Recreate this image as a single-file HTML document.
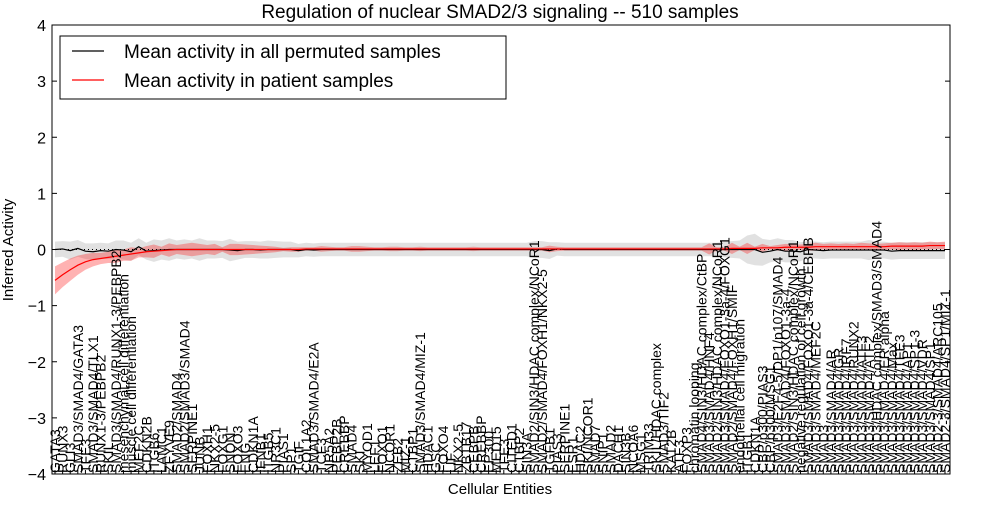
<!DOCTYPE html>
<html><head><meta charset="utf-8"><style>
body{margin:0;background:#fff;}
svg text{font-family:"Liberation Sans",sans-serif;}
</style></head><body>
<svg id="chart" width="1000" height="500" xmlns="http://www.w3.org/2000/svg">
<rect width="1000" height="500" fill="#fff"/>
<text x="500" y="18" font-size="19" text-anchor="middle">Regulation of nuclear SMAD2/3 signaling -- 510 samples</text>
<text transform="translate(13,250) rotate(-90)" font-size="15" text-anchor="middle">Inferred Activity</text>
<text x="500" y="494" font-size="15" text-anchor="middle">Cellular Entities</text>
<g id="bands"></g><g id="lines"></g><g id="xlabels"></g><g id="yticks"></g>
<rect x="52" y="25" width="898" height="449" fill="none" stroke="#000" stroke-width="1"/>
<g>
<rect x="60" y="36" width="446" height="63" fill="#fff" stroke="#000"/>
<line x1="72" y1="51" x2="104" y2="51" stroke="#000" stroke-width="1.2"/>
<text x="124" y="58" font-size="19">Mean activity in all permuted samples</text>
<line x1="72" y1="80" x2="104" y2="80" stroke="#f00" stroke-width="1.2"/>
<text x="124" y="87" font-size="19">Mean activity in patient samples</text>
</g>
</svg>
<script>
const yTicks=[-4,-3,-2,-1,0,1,2,3,4];
const labels=["GATA3","RUNX3","GLI3","SMAD3/SMAD4/GATA3","TFE3","SMAD3/SMAD4/TLX1","RUNX1-3/PEBPB2","SKIL","SMAD3/SMAD4/RUNX1-3/PEBPB2","mesenchymal cell differentiation","muscle cell differentiation","MEF2C","CDKN2B","ITGB6","LAMC1","ZFYVE9","SMAD2/SMAD4","SMAD2/SMAD3/SMAD4","SERPINE1","JUNB","FOXH1","NKX2-5","FOXG1","SNON","FOXO3","ENG","CDKN1A","IFNB1","ITGB5","NR3C1","PIAS1","SP1","TGIF","COL1A2","SMAD3/SMAD4/E2A","TCF3","NR5A2","PEBP2B","CREBBP","SMAD4","SKI","MYOD1","LEF1","FOXO1","NCOR1","ZEB2","MIZ-1","CTBP1","SMAD3/SMAD4/MIZ-1","HDAC1","GSC","FOXO4","LIF","NKX2-5","ZBTB17","CEBPB","CREBBP","EP300","MED15","TFE3","CITED1","CTBP2","SIN3A","SMAD2/SIN3/HDAC complex/NCoR1","SMAD2/SMAD4/FOXH1/NKX2-5","TGFB1","PIAS3","SERPINE1","ESR1","HDAC2","SKI/NCOR1","SMAD7","SNIP1","SMAD2","DACH1","SIN3B","NCOA6","MSG1","TRIM33","SKIL/HDAC complex","SMAD3/TIF2","KAT2B","ATF3","FOXP3","chromatin looping","SMAD4/SIN3/HDAC complex/CtBP","SMAD3/SMAD4/HNF4","SMAD2/SIN3/HDAC complex/NCoR1","SMAD3/SMAD4/FOXO1-3a-4/FOXG1","SMAD2/SMAD4/FOXH1/SMIF","endothelial cell migration","ITGB1","CDKN1A","CBP/p300/PIAS3","CBP/p300/MSG1","SMAD3/E2F4-5/DP1/p107/SMAD4","SMAD3/SMAD4/FOXO1-3a-4","SMAD2/SIN3/HDAC complex/NCoR1","negative regulation of cell growth","SMAD3/SMAD4/FOXO1-3a-4/CEBPB","SMAD3/SMAD4/MEF2C","SMAD3","SMAD3/SMAD4/AR","SMAD3/SMAD4/GR","SMAD3/SMAD4/IRF7","SMAD3/SMAD4/RUNX2","SMAD3/SMAD4/ATF3","SMAD3/SMAD4/ATF2","SMAD3/HDAC complex/SMAD3/SMAD4","SMAD3/SMAD4/ER alpha","SMAD3/SMAD4/Max","SMAD3/SMAD4/TFE3","SMAD3/SMAD4/AP1","SMAD3/SMAD4/SP1-3","SMAD3/SMAD4/VDR","SMAD3/SMAD4/SP1","SMAD2-3/SMAD4/ARC105","SMAD2-3/SMAD4/SP1/MIZ-1"];
const permMean=[0,0.01,-0.02,0.02,-0.03,-0.04,-0.02,-0.03,0,-0.01,-0.04,0.05,-0.03,-0.02,-0.01,0,0,0,0,0,0,0,0,-0.01,-0.02,0,0,-0.01,0,0,0,0,-0.02,0,-0.01,0,0,0,0,0,0,0,0,0,0,0,0,0,0,0,0,0,0,0,0,0,0,0,0,0,0,0,0,0,0,-0.02,0.01,0,0,0,0,0,0,0,0,0,0,0,0,0,0,0,0,0,0,0,0,0,0,0,0,0,0,-0.05,-0.03,0,-0.03,-0.03,-0.04,0,-0.01,-0.02,-0.01,-0.01,-0.01,-0.01,-0.01,-0.01,-0.01,-0.01,-0.03,-0.02,-0.02,-0.02,-0.02,-0.02,-0.02,-0.02,-0.02,-0.02,-0.02];
const permSpread=[0.14,0.14,0.16,0.15,0.14,0.15,0.14,0.14,0.16,0.17,0.16,0.15,0.15,0.2,0.17,0.2,0.16,0.18,0.16,0.2,0.16,0.16,0.15,0.2,0.16,0.15,0.15,0.15,0.16,0.15,0.14,0.14,0.12,0.12,0.12,0.12,0.12,0.12,0.12,0.12,0.12,0.12,0.12,0.12,0.12,0.12,0.12,0.12,0.12,0.12,0.12,0.12,0.12,0.12,0.12,0.12,0.12,0.12,0.12,0.12,0.12,0.12,0.12,0.15,0.15,0.15,0.12,0.12,0.12,0.12,0.12,0.12,0.12,0.12,0.12,0.12,0.12,0.12,0.12,0.12,0.12,0.12,0.12,0.12,0.12,0.12,0.12,0.12,0.14,0.15,0.16,0.25,0.28,0.24,0.2,0.2,0.2,0.2,0.17,0.15,0.15,0.15,0.15,0.15,0.15,0.15,0.15,0.18,0.15,0.15,0.15,0.15,0.15,0.15,0.15,0.15,0.15,0.15,0.15,0.15];
const patMean=[-0.55,-0.45,-0.36,-0.28,-0.22,-0.18,-0.16,-0.14,-0.12,-0.1,-0.08,-0.06,-0.04,-0.03,-0.02,-0.01,0,0,0,0,0,0,0,0,0,0,0,0,0,0,0,0,0,0.01,0.01,0.01,0.01,0.01,0.01,0.01,0.01,0.01,0.01,0.01,0.01,0.01,0.01,0.01,0.01,0.01,0.01,0.01,0.01,0.01,0.01,0.01,0.01,0.01,0.01,0.01,0.01,0.01,0.01,0.01,0.01,0.01,0.01,0.01,0.01,0.01,0.01,0.01,0.01,0.01,0.01,0.01,0.01,0.01,0.01,0.01,0.01,0.01,0.01,0.01,0.01,0.01,0.01,0.01,0.01,0.02,0.02,0.02,0.02,0.03,0.03,0.03,0.04,0.04,0.04,0.04,0.05,0.05,0.05,0.05,0.05,0.05,0.05,0.05,0.05,0.05,0.06,0.06,0.06,0.06,0.06,0.07,0.07,0.07,0.08,0.08,0.09,0.1];
const patSpread=[0.25,0.22,0.2,0.17,0.14,0.12,0.1,0.1,0.12,0.1,0.12,0.08,0.1,0.12,0.07,0.12,0.08,0.1,0.12,0.1,0.08,0.1,0.04,0.1,0.1,0.09,0.08,0.07,0.06,0.05,0.03,0.04,0.04,0.03,0.03,0.05,0.04,0.03,0.03,0.05,0.05,0.04,0.03,0.03,0.04,0.04,0.03,0.03,0.04,0.03,0.03,0.03,0.03,0.03,0.03,0.04,0.03,0.03,0.03,0.03,0.03,0.03,0.03,0.03,0.03,0.06,0.04,0.03,0.03,0.03,0.03,0.03,0.03,0.03,0.03,0.03,0.03,0.03,0.03,0.03,0.03,0.03,0.03,0.03,0.03,0.03,0.1,0.03,0.03,0.1,0.03,0.1,0.03,0.07,0.03,0.05,0.06,0.05,0.05,0.06,0.07,0.05,0.06,0.05,0.06,0.05,0.07,0.06,0.05,0.06,0.06,0.07,0.06,0.07,0.06,0.07,0.06,0.07,0.07,0.07,0.08];
const NS="http://www.w3.org/2000/svg";
const N=labels.length;
const X0=55,X1=945,Y0=25,Y1=474;
function xs(i){return X0+i*(X1-X0)/(N-1);}
function ys(v){return Y1-(v+4)*(Y1-Y0)/8;}
function mk(tag,attrs,parent){const e=document.createElementNS(NS,tag);for(const k in attrs)e.setAttribute(k,attrs[k]);parent.appendChild(e);return e;}
const bands=document.getElementById('bands'),lines=document.getElementById('lines'),xl=document.getElementById('xlabels'),yt=document.getElementById('yticks');
function band(mean,spr,fill,op,name){let up=[],dn=[];for(let i=0;i<N;i++){up.push(xs(i)+','+ys(mean[i]+spr[i]));dn.unshift(xs(i)+','+ys(mean[i]-spr[i]));}
const p=mk('polygon',{points:up.concat(dn).join(' '),fill:fill,'fill-opacity':op,stroke:'none'},bands);

}
band(permMean,permSpread,'#aaa',0.35,'permuted-band');
band(patMean,patSpread,'#f00',0.3,'patient-band');
function line(mean,col,name){const pts=[];for(let i=0;i<N;i++)pts.push(xs(i)+','+ys(mean[i]));
const l=mk('polyline',{points:pts.join(' '),fill:'none',stroke:col,'stroke-width':1.2},lines);

}
const z=mk('line',{x1:52,x2:950,y1:ys(0),y2:ys(0),stroke:'#000','stroke-dasharray':'1,3'},lines);


line(permMean,'#000','permuted-mean-line');
line(patMean,'#f00','patient-mean-line');
yTicks.forEach(v=>{const y=ys(v);
mk('line',{x1:52,x2:57,y1:y,y2:y,stroke:'#000'},yt);mk('line',{x1:945,x2:950,y1:y,y2:y,stroke:'#000'},yt);
const t=mk('text',{x:46,y:y+6,'font-size':16,'text-anchor':'end'},yt);t.textContent=(v<0?'\u2212':'')+Math.abs(v);

});
labels.forEach((s,i)=>{const x=xs(i);
mk('line',{x1:x,x2:x,y1:474,y2:470,stroke:'#000'},xl);
const t=mk('text',{transform:`translate(${x+5},473) rotate(-90)`,'font-size':14},xl);t.textContent=s;

});
</script>
</body></html>
